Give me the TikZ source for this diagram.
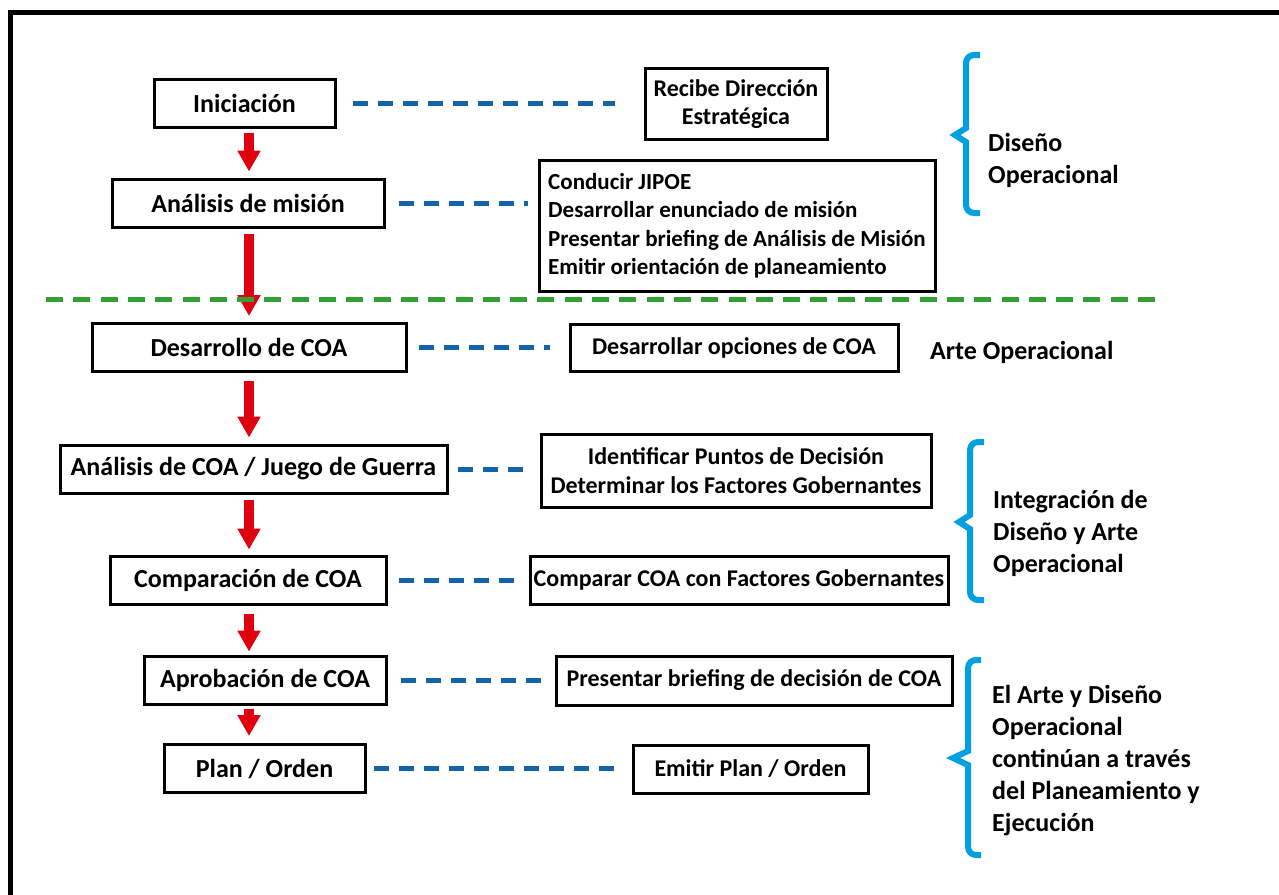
\documentclass[tikz,border=0pt]{standalone}
\usepackage{fontspec}
\setmainfont{Carlito}
\usetikzlibrary{arrows.meta}
\definecolor{flowred}{RGB}{225,0,15}
\definecolor{linkblue}{RGB}{20,100,170}
\definecolor{braceblue}{RGB}{0,160,225}
\definecolor{splitgreen}{RGB}{50,160,50}
\begin{document}
\begin{tikzpicture}[x=1pt,y=-1pt,
    stage/.style={draw,line width=3pt,minimum height=48pt,inner sep=0pt,font=\fontsize{26}{31}\selectfont\bfseries},
    task/.style={draw,line width=3pt,inner sep=0pt,align=center,font=\fontsize{24}{28.5}\selectfont\bfseries},
    phase/.style={anchor=west,align=left,inner sep=0pt,font=\fontsize{26}{32}\selectfont\bfseries},
    flow/.style={flowred,line width=10pt,-{Triangle[width=22pt,length=21pt]}},
    link/.style={linkblue,line width=5pt,dash pattern=on 15pt off 10pt},
    brace/.style={braceblue,line width=6pt}]
    \useasboundingbox (0,0) rectangle (1279,894);
    \clip (0,0) rectangle (1279,894);
    \draw[line width=5pt] (10.5,910) -- (10.5,12) -- (1290,12);

    \node[stage,minimum width=181pt] (ini) at (244.5,103) {Iniciación};
    \node[stage,minimum width=272pt] (mis) at (248,203) {Análisis de misión};
    \node[stage,minimum width=314pt] (des) at (249,347.5) {Desarrollo de COA};
    \node[stage,minimum width=387pt] (war) at (253.5,469) {Análisis de COA / Juego de Guerra};
    \node[stage,minimum width=276pt] (cmp) at (248,580) {Comparación de COA};
    \node[stage,minimum width=242pt] (apr) at (265,680) {Aprobación de COA};
    \node[stage,minimum width=201pt] (ord) at (264.5,768.5) {Plan / Orden};

    \node[task,minimum width=182pt,minimum height=71pt] (dir) at (736,104) {Recibe Dirección\\Estratégica};
    \node[task,minimum width=396pt,minimum height=131pt,align=left,font=\fontsize{23}{28.5}\selectfont\bfseries] (jip) at (737,225.5) {Conducir JIPOE\\Desarrollar enunciado de misión\\Presentar briefing de Análisis de Misión\\Emitir orientación de planeamiento};
    \node[task,minimum width=328pt,minimum height=47pt] (opc) at (734,347.5) {Desarrollar opciones de COA};
    \node[task,minimum width=390pt,minimum height=73pt] (dec) at (736,470.5) {Identificar Puntos de Decisión\\Determinar los Factores Gobernantes};
    \node[task,minimum width=418pt,minimum height=48pt] (fac) at (739,580) {Comparar COA con Factores Gobernantes};
    \node[task,minimum width=396pt,minimum height=49pt] (brf) at (754,680.5) {Presentar briefing de decisión de COA};
    \node[task,minimum width=235pt,minimum height=48pt] (emi) at (750.5,769) {Emitir Plan / Orden};

    \coordinate (axis) at (249,0);
    \draw[flow,shorten <=4pt,shorten >=6pt] (ini.south -| axis) -- (mis.north -| axis);
    \draw[flow,shorten <=5pt,shorten >=6pt] (mis.south -| axis) -- (des.north -| axis);
    \draw[flow,shorten <=8pt,shorten >=6pt] (des.south -| axis) -- (war.north -| axis);
    \draw[flow,shorten <=5pt,shorten >=5pt] (war.south -| axis) -- (cmp.north -| axis);
    \draw[flow,shorten <=8pt,shorten >=3pt] (cmp.south -| axis) -- (apr.north -| axis);
    \draw[flow,shorten <=3pt,shorten >=7pt] (apr.south -| axis) -- (ord.north -| axis);

    \draw[link,shorten <=16pt,shorten >=29pt] (ini.east) -- (ini.east -| dir.west);
    \draw[link,shorten <=13pt,shorten >=10pt] (mis.east) -- (mis.east -| jip.west);
    \draw[link,shorten <=11pt,shorten >=19pt] (des.east) -- (des.east -| opc.west);
    \draw[link,shorten <=9pt,shorten >=12pt] (war.east) -- (war.east -| dec.west);
    \draw[link,shorten <=11pt,shorten >=7pt] (cmp.east) -- (cmp.east -| fac.west);
    \draw[link,shorten <=13pt,shorten >=13pt] (apr.east) -- (apr.east -| brf.west);
    \draw[link,shorten <=7pt,shorten >=17pt] (ord.east) -- (ord.east -| emi.west);

    \draw[splitgreen,line width=5pt,dash pattern=on 17pt off 10.3pt] (46,299) -- (1164,299);

    \draw[brace] (980,55) [rounded corners=8pt] -- (966,55) -- (966,100) [sharp corners] -- (966,128) -- (955,135) -- (966,142) -- (966,170) [rounded corners=8pt] -- (966,213) -- (980,213);
    \draw[brace] (984,442) [rounded corners=8pt] -- (970,442) -- (970,490) [sharp corners] -- (970,515) -- (959,522) -- (970,529) -- (970,560) [rounded corners=8pt] -- (970,600) -- (984,600);
    \draw[brace] (981,660) [rounded corners=8pt] -- (968,660) -- (968,720) [sharp corners] -- (968,751) -- (953,758) -- (968,765) -- (968,800) [rounded corners=8pt] -- (968,855) -- (981,855);

    \node[phase] (dis) at (988,160) {Diseño\\Operacional};
    \node[phase] (art) at (930,352) {Arte Operacional};
    \node[phase] (int) at (993,533) {Integración de\\Diseño y Arte\\Operacional};
    \node[phase] (con) at (992,761) {El Arte y Diseño\\Operacional\\continúan a través\\del Planeamiento y\\Ejecución};
\end{tikzpicture}
\end{document}
